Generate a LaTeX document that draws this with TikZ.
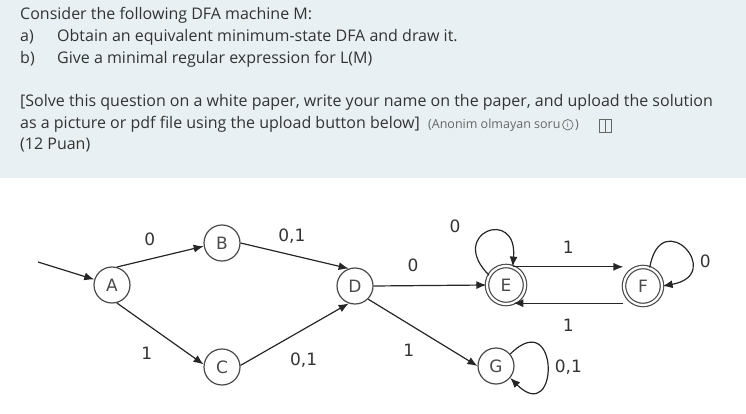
\documentclass[tikz,border=0pt]{standalone}
\usepackage{fontspec}
\setmainfont{Open Sans}
\newfontfamily\labelfont{DejaVu Sans}
\usepackage{tikz}
\usetikzlibrary{arrows.meta,positioning}
\definecolor{panelbg}{HTML}{E9F0F3}
\definecolor{qtext}{HTML}{333333}
\definecolor{hinttext}{HTML}{666666}
\definecolor{ringcol}{HTML}{4A4A4A}

\begin{document}
\begin{tikzpicture}[x=1pt,y=1pt,
		txt/.style={anchor=base west, inner sep=0, text=qtext, font=\fontsize{16}{19}\selectfont},
		hint/.style={anchor=base west, inner sep=0, text=hinttext, font=\fontsize{12.5}{15}\selectfont},
		infomark/.style={circle, draw=hinttext, line width=0.7pt, inner sep=0, minimum size=10.5pt, text=hinttext, font=\fontsize{7.5}{8}\selectfont},
		state/.style={circle, draw=ringcol, line width=1.2pt, minimum size=36pt, inner sep=0, text=ringcol, font=\labelfont\fontsize{17}{20}\selectfont},
		accstate/.style={state, double, double distance=2.2pt, minimum size=38pt},
		edge/.style={draw=black!85, line width=1.2pt, -{Latex[length=10pt,width=8pt]}},
		lbl/.style={text=black!80, font=\labelfont\fontsize{17}{20}\selectfont, inner sep=0}]
			\useasboundingbox (0,0) rectangle (746,-414);
			% question panel
			\fill[panelbg] (0,0) rectangle (746,-178);
			\node[txt] (title) at (20,-20) {Consider the following DFA machine M:};
			\node[txt] (itema) at (20,-42) {a)};
			\node[txt] (texta) at (57,-42) {Obtain an equivalent minimum-state DFA and draw it.};
			\node[txt] (itemb) at (20,-63.5) {b)};
			\node[txt] (textb) at (57,-63.5) {Give a minimal regular expression for L(M)};
			\node[txt] (note1) at (20,-107) {[Solve this question on a white paper, write your name on the paper, and upload the solution};
			\node[txt] (note2) at (20,-129) {as a picture or pdf file using the upload button below]};
			\node[hint] (anon) at (428,-129) {(Anonim olmayan soru};
			\node[infomark, right=1.5pt of anon.east, yshift=1pt] (info) {i};
			\node[hint] (anonend) at ([xshift=1.5pt]info.east |- anon.base) {)};
			\node[txt] (points) at (20,-150) {(12 Puan)};
			% reader icon
			\draw[hinttext, line width=0.9pt] (599,-119) rectangle (611,-132);
			\draw[hinttext, line width=0.9pt] (605,-119) -- (605,-132);
			% states
			\node[state] (A) at (112,-285) {A};
			\node[state] (B) at (222,-243) {B};
			\node[state] (C) at (222,-367) {C};
			\node[state] (D) at (355,-286) {D};
			\node[accstate] (E) at (506,-285) {E};
			\node[accstate] (F) at (643,-286) {F};
			\node[state] (G) at (496,-366) {G};
			\coordinate (init) at (38,-262);
			% transitions
			\draw[edge] (init) -- (A);
			\draw[edge] (A.75) -- node[lbl, pos=.38, yshift=20pt] {0} (B.190);
			\draw[edge] (A.-75) -- node[lbl, xshift=-13.5pt, yshift=-19.5pt] {1} (C.172);
			\draw[edge] (B.0) -- node[lbl, pos=.475, yshift=19pt] {0,1} (D.110);
			\draw[edge] (C.5) -- node[lbl, xshift=9pt, yshift=-26pt] {0,1} (D.-110);
			\draw[edge] (D.east) -- node[lbl, pos=.35, yshift=20.5pt] {0} (E.west);
			\draw[edge] (D.-45) -- node[lbl, xshift=-14pt, yshift=-18pt] {1} (G.west);
			\draw[edge] (E.68) -- node[lbl, yshift=20pt] {1} (E.68 -| F.west);
			\draw[edge] (E.-68 -| F.west) -- node[lbl, yshift=-22pt] {1} (E.-68);
			% self loops
			\draw[edge] (E.150) .. controls +(135:60) and +(85:60) .. node[lbl, pos=.25, xshift=-20.5pt, yshift=21.4pt] {0} (E.70);
			\draw[edge] (F.70) .. controls +(80:65) and +(10:65) .. node[lbl, xshift=21pt, yshift=-13pt] {0} (F.0);
			\draw[edge] (G.40) .. controls +(45:70) and +(-45:70) .. node[lbl, xshift=21pt, yshift=-1pt] {0,1} (G.-40);
		\end{tikzpicture}
\end{document}
